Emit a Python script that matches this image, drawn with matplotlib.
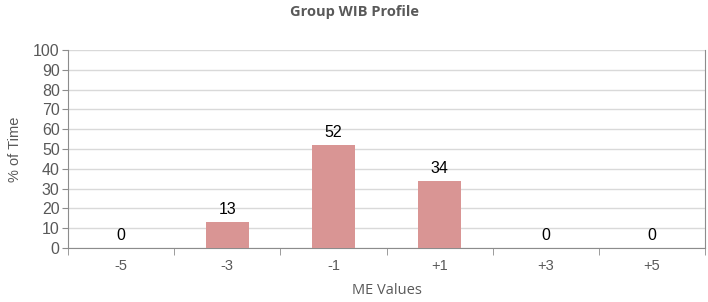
import matplotlib.pyplot as plt
import numpy as np

# Data
categories = ['-5', '-3', '-1', '+1', '+3', '+5']
pct_time = [0, 13, 52, 34, 0, 0]
y_ticks = list(range(0, 101, 10))

plt.rcParams.update({
    'font.family': ['Liberation Sans', 'DejaVu Sans'],
})

fig = plt.figure(figsize=(7.08, 3.02), dpi=100)
ax = fig.add_axes([0.096, 0.179, 0.9, 0.655])

x = np.arange(len(categories))
bars = ax.bar(x, pct_time, width=0.4, color='#d99594', zorder=3)

for xi, v in zip(x, pct_time):
    ax.text(xi, v + 2.5, str(v), ha='center', va='bottom', fontsize=11.5, color='black')

ax.set_xlim(-0.5, len(categories) - 0.5)
ax.set_ylim(0, 100)
ax.set_yticks(y_ticks)
ax.yaxis.grid(True, color='#d9d9d9', linewidth=1, zorder=0)

# category labels centred, tick marks on boundaries
ax.set_xticks(x)
ax.set_xticklabels(categories)
ax.tick_params(axis='x', length=0, pad=8, labelsize=10.5, labelcolor='#595959')
ax.set_xticks(np.arange(-0.5, len(categories)), minor=True)
ax.tick_params(axis='x', which='minor', length=5, color='#8c8c8c')
ax.tick_params(axis='y', length=4, color='#8c8c8c', labelsize=11.5, labelcolor='#595959', pad=2)

for s in ['left', 'bottom', 'right']:
    ax.spines[s].set_color('#8c8c8c')
ax.spines['top'].set_visible(False)

ax.set_ylabel('% of Time', fontsize=10.5, color='#595959', labelpad=8)
ax.set_xlabel('ME Values', fontsize=10.5, color='#595959', labelpad=7,
              family=['Open Sans', 'DejaVu Sans'])
fig.text(0.5, 0.96, 'Group WIB Profile', ha='center', va='center', fontsize=10.5,
         fontweight='bold', color='#595959', family=['Open Sans', 'DejaVu Sans'])

plt.savefig('out.png')
plt.close()
